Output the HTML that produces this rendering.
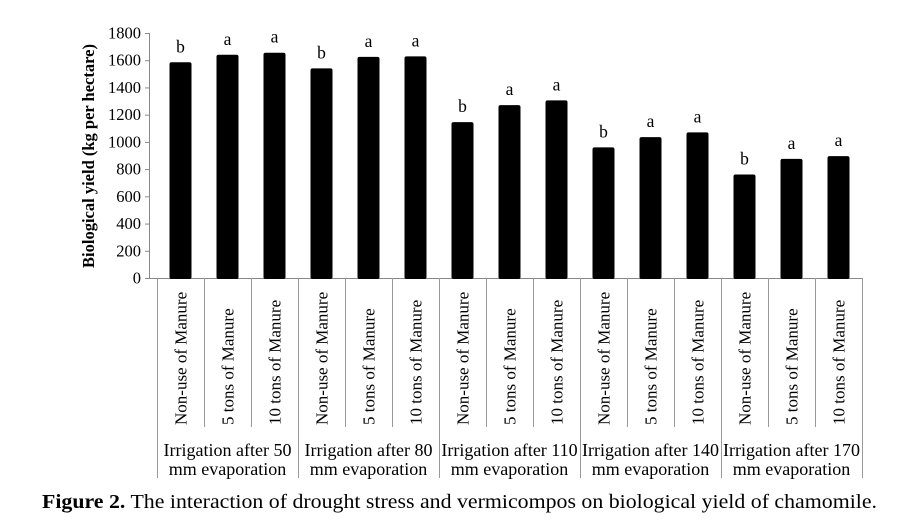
<!DOCTYPE html>
<html><head><meta charset="utf-8"><style>
html,body{margin:0;padding:0;background:#fff;}
svg{display:block;font-family:"Liberation Serif",serif;}
</style></head><body>
<svg width="909" height="527" viewBox="0 0 909 527" xmlns="http://www.w3.org/2000/svg">
<g id="g"></g>
</svg>
<script>
const svg=document.getElementById('g');
const NS='http://www.w3.org/2000/svg';
function el(t,a,txt){const e=document.createElementNS(NS,t);for(const k in a)e.setAttribute(k,a[k]);if(txt!==undefined)e.textContent=txt;svg.appendChild(e);return e;}
const y0=278, k=245/1800, x0=157, w=47;
el('line',{x1:149.5,y1:33,x2:149.5,y2:y0,stroke:'#888','stroke-width':1});
for(let v=0;v<=1800;v+=200){const y=y0-v*k;
 el('line',{x1:145,y1:y+.5,x2:149.5,y2:y+.5,stroke:'#888','stroke-width':1});
 el('text',{x:141,y:y+5.5,'text-anchor':'end','font-size':16.5},String(v));}
el('line',{x1:145,y1:y0+.5,x2:862,y2:y0+.5,stroke:'#888','stroke-width':1});
el('text',{transform:'translate(94,156) rotate(-90)','text-anchor':'middle','font-size':16.5,'font-weight':'bold'},'Biological yield (kg per hectare)');
const vals=[1585,1640,1655,1540,1625,1628,1145,1270,1305,960,1035,1070,760,875,895];
const cats=['Non-use of Manure','5 tons of Manure','10 tons of Manure'];
for(let i=0;i<15;i++){
 const cx=x0+w*i+w/2, h=vals[i]*k;
 el('rect',{x:cx-11,y:y0-h,width:22,height:h+1,rx:2,fill:'#000'});
 el('text',{x:cx,y:y0-h-10,'text-anchor':'middle','font-size':17.5},i%3==0?'b':'a');
 el('text',{transform:`translate(${cx+6},425) rotate(-90)`,'font-size':17},cats[i%3]);
}
for(let i=0;i<=15;i++){const x=x0+w*i+.5;
 el('line',{x1:x,y1:y0,x2:x,y2:i%3==0?478:427,stroke:'#999','stroke-width':1});}
const g=['50','80','110','140','170'];
for(let j=0;j<5;j++){const cx=x0+w*3*j+w*1.5;
 el('text',{x:cx,y:456,'text-anchor':'middle','font-size':18},'Irrigation after '+g[j]);
 el('text',{x:cx,y:475,'text-anchor':'middle','font-size':18},'mm evaporation');}
const t=el('text',{x:42,y:508,'font-size':20.5,textLength:835,lengthAdjust:'spacingAndGlyphs'});
const b=document.createElementNS(NS,'tspan');b.setAttribute('font-weight','bold');b.textContent='Figure 2.';t.appendChild(b);
t.appendChild(document.createTextNode(' The interaction of drought stress and vermicompos on biological yield of chamomile.'));
</script>
</body></html>
